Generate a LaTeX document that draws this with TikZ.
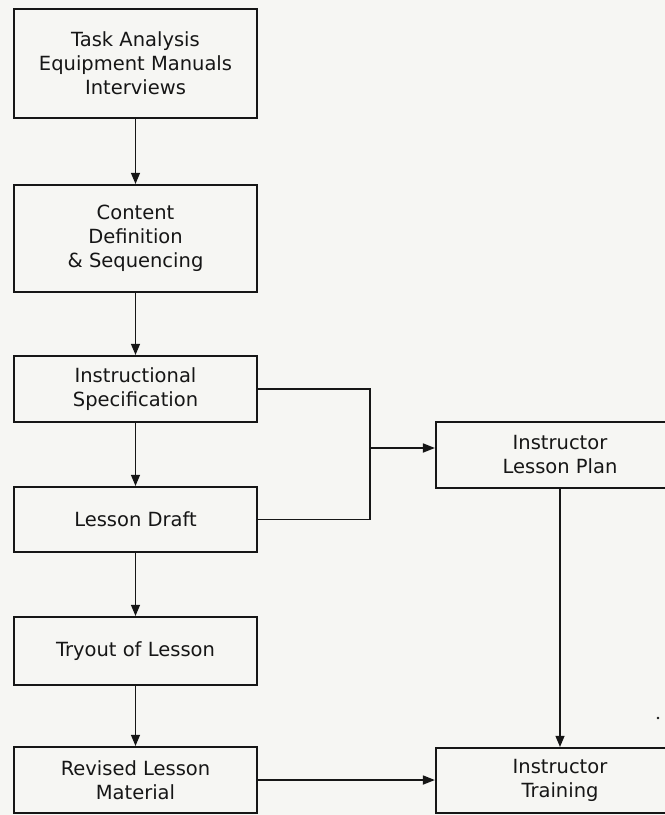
\documentclass[tikz,border=0pt]{standalone}
\usepackage{fontspec}
\setmainfont{DejaVu Sans}
\usetikzlibrary{arrows.meta}
\definecolor{paper}{RGB}{246,246,243}
\definecolor{ink}{RGB}{22,22,22}
\begin{document}
\begin{tikzpicture}[x=1bp,y=-1bp,
  box/.style={draw=ink,line width=2.2bp,align=center,inner sep=0pt,text=ink,
    font=\fontsize{19.5bp}{24bp}\selectfont},
  thinlink/.style={draw=ink,line width=1.1bp,-{Triangle[length=11bp,width=9bp]}},
  thicklink/.style={draw=ink,line width=1.7bp,-{Triangle[length=12bp,width=9bp]}},
  wire/.style={draw=ink,line width=1.6bp}]
\useasboundingbox (0,0) rectangle (665,815);
\fill[paper] (0,0) rectangle (665,815);
\begin{scope}
\clip (0,0) rectangle (665,815);
\node[box,minimum width=243bp,minimum height=109bp] (b1) at (135.5,63.5) {Task Analysis\\Equipment Manuals\\Interviews};
\node[box,minimum width=243bp,minimum height=107bp] (b2) at (135.5,238.5) {Content\\Definition\\\& Sequencing};
\node[box,minimum width=243bp,minimum height=66bp] (b3) at (135.5,389) {Instructional\\Specification};
\node[box,minimum width=243bp,minimum height=65bp] (b4) at (135.5,519.5) {Lesson Draft};
\node[box,minimum width=243bp,minimum height=68bp] (b5) at (135.5,651) {Tryout of Lesson};
\node[box,minimum width=243bp,minimum height=66bp] (b6) at (135.5,780) {Revised Lesson\\Material};
\node[box,minimum width=248bp,minimum height=66bp] (ilp) at (560,455) {Instructor\\Lesson Plan};
\node[box,minimum width=248bp,minimum height=65bp] (it) at (560,780.5) {Instructor\\Training};
\coordinate (j2) at (370,519.5);
\coordinate (j3) at (370,448);
\draw[thinlink] (b1.south) -- (b2.north);
\draw[thinlink] (b2.south) -- (b3.north);
\draw[thinlink] (b3.south) -- (b4.north);
\draw[thinlink] (b4.south) -- (b5.north);
\draw[thinlink] (b5.south) -- (b6.north);
\draw[wire] (b3.east) -| (j2) -- (b4.east);
\draw[thicklink] (j3) -- (j3 -| ilp.west);
\draw[thinlink] (ilp.south) -- (it.north);
\draw[thicklink] (b6.east) -- (b6.east -| it.west);
\fill[ink] (658,718) circle (1.3bp);
\end{scope}
\end{tikzpicture}
\end{document}
